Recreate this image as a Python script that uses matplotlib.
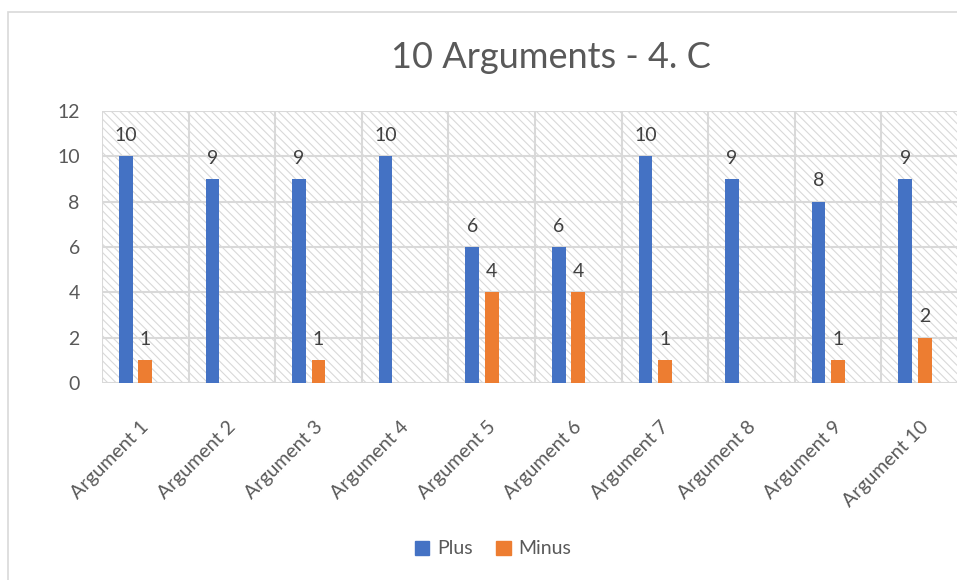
import matplotlib
matplotlib.use("Agg")
import matplotlib.pyplot as plt
from matplotlib.patches import Rectangle
from matplotlib.transforms import ScaledTranslation
import numpy as np

categories = [f"Argument {i}" for i in range(1, 11)]
plus = [10, 9, 9, 10, 6, 6, 10, 9, 8, 9]
minus = [1, 0, 1, 0, 4, 4, 1, 0, 1, 2]
series_names = ["Plus", "Minus"]
colors = ["#4472C4", "#ED7D31"]
title = "10 Arguments - 4. C"
yticks = [0, 2, 4, 6, 8, 10, 12]

plt.rcParams['font.family'] = ['Lato', 'DejaVu Sans']
plt.rcParams['hatch.linewidth'] = 0.8
plt.rcParams['hatch.color'] = '#d9d9d9'

W, H = 957, 580
fig = plt.figure(figsize=(W / 100, H / 100), dpi=100)
fig.patch.set_facecolor('white')

# chart border
fig.patches.append(Rectangle((8 / W, -0.2), 1.5, (H - 12) / H + 0.2,
                             transform=fig.transFigure, fill=False,
                             edgecolor='#d9d9d9', lw=1.2, zorder=0))

left, right, top, bottom = 102, 968, 111, 383
ax = fig.add_axes([left / W, (H - bottom) / H, (right - left) / W, (bottom - top) / H])
ax.set_xlim(-0.5, len(categories) - 0.5)
ax.set_ylim(0, 12)

# hatched background
ax.add_patch(Rectangle((0, 0), 1, 1, transform=ax.transAxes, facecolor='white',
                       hatch='\\\\\\\\', edgecolor='#d9d9d9', lw=0, zorder=0))

x = np.arange(len(categories))
step = 0.225
bw = 0.158
for i, (vals, col) in enumerate(zip([plus, minus], colors)):
    xs = x + (i - 1) * step
    ax.bar(xs, vals, width=bw, color=col, zorder=3, label=series_names[i])
    for xi, v in zip(xs, vals):
        if v > 0:
            ax.text(xi, v + 0.55, str(v), ha='center', va='bottom',
                    fontsize=14, color='#404040', zorder=4)

# grid
for yv in yticks:
    ax.axhline(yv, color='#d9d9d9', lw=1.5, zorder=1)
for b in np.arange(-0.5, len(categories) + 0.5, 1):
    ax.axvline(b, color='#d9d9d9', lw=1.5, zorder=1)

for s in ax.spines.values():
    s.set_visible(False)

ax.set_yticks(yticks)
ax.set_yticklabels([str(t) for t in yticks], fontsize=14, color='#595959')
ax.tick_params(axis='y', length=0, pad=16)
ax.set_xticks(x)
ax.set_xticklabels(categories, rotation=45, ha='right', va='top',
                   rotation_mode='anchor', fontsize=14, color='#595959')
ax.tick_params(axis='x', length=0, pad=25)
off = ScaledTranslation(-0.05, 0, fig.dpi_scale_trans)
for lab in ax.get_xticklabels():
    lab.set_transform(lab.get_transform() + off)

fig.text(551 / W, 1 - 58 / H, title, ha='center', va='center',
         fontsize=26, color='#595959')

handles = [Rectangle((0, 0), 1, 1, color=c) for c in colors]
fig.legend(handles, series_names, loc='center', bbox_to_anchor=(493 / W, 1 - 549 / H),
           ncol=2, frameon=False, fontsize=14, handlelength=0.75, handleheight=0.75,
           handletextpad=0.4, columnspacing=1.2, labelcolor='#595959')

fig.savefig('out.png', dpi=100)
